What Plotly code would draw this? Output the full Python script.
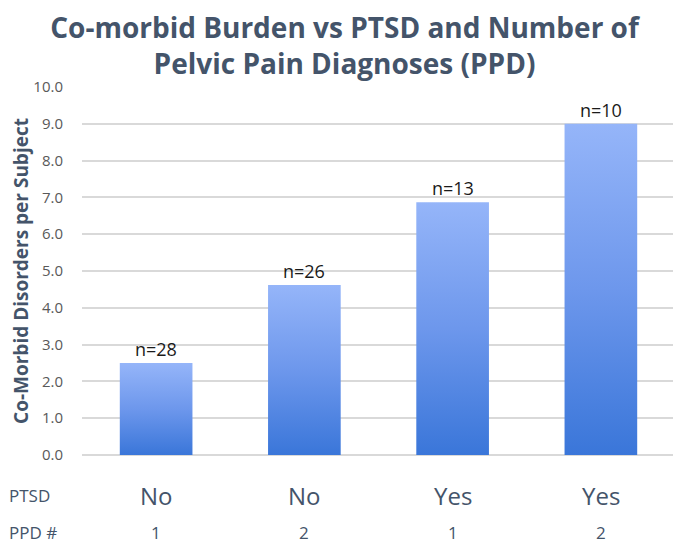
import plotly.graph_objects as go

# Data
ptsd = ["No", "No", "Yes", "Yes"]
ppd = ["1", "2", "1", "2"]
values = [2.5, 4.62, 6.87, 9.0]
n_labels = ["n=28", "n=26", "n=13", "n=10"]
y_ticks = [0, 1, 2, 3, 4, 5, 6, 7, 8, 9, 10]

BAR_HALF = 0.245
FONT = "Open Sans"
GRAD = [[0.0, "#3a76d9"], [0.5, "#6d97ec"], [1.0, "#95b5f9"]]

W, H = 673, 538

fig = go.Figure()
for i, v in enumerate(values):
    xs = [i - BAR_HALF, i + BAR_HALF, i + BAR_HALF, i - BAR_HALF, i - BAR_HALF]
    ys = [0, 0, v, v, 0]
    fig.add_trace(go.Scatter(
        x=xs, y=ys, mode="lines", fill="toself",
        line=dict(width=0, color="rgba(0,0,0,0)"),
        fillgradient=dict(type="vertical", colorscale=GRAD, start=0, stop=v),
        hoverinfo="skip", showlegend=False,
    ))
    fig.add_annotation(x=i, y=v, text=n_labels[i], showarrow=False,
                       yanchor="bottom", yshift=0,
                       font=dict(family=FONT, size=18, color="#1a1a1a"))
    fig.add_annotation(x=i, y=0, xref="x", yref="y", text=ptsd[i], showarrow=False,
                       yanchor="middle", yshift=-40,
                       font=dict(family=FONT, size=24, color="#44546a"))
    fig.add_annotation(x=i, y=0, xref="x", yref="y", text=ppd[i], showarrow=False,
                       yanchor="middle", yshift=-77,
                       font=dict(family=FONT, size=17, color="#44546a"))

fig.add_annotation(x=0, xref="paper", xanchor="left", xshift=-75, y=0, yref="y",
                   yshift=-40, text="PTSD", showarrow=False, yanchor="middle",
                   font=dict(family=FONT, size=17, color="#44546a"))
fig.add_annotation(x=0, xref="paper", xanchor="left", xshift=-75, y=0, yref="y",
                   yshift=-77, text="PPD #", showarrow=False, yanchor="middle",
                   font=dict(family=FONT, size=17, color="#44546a"))

fig.update_layout(
    width=W, height=H,
    margin=dict(l=74, r=6, t=79, b=91),
    paper_bgcolor="white", plot_bgcolor="white",
    title=dict(text="<b>Co-morbid Burden vs PTSD and Number of<br>Pelvic Pain Diagnoses (PPD)</b>",
               x=0.5, xanchor="center", yref="container", y=1 - 30 / H, yanchor="middle",
               font=dict(family=FONT, size=28, color="#44546a")),
    xaxis=dict(range=[-0.5, 3.5], showticklabels=False, showgrid=False,
               zeroline=False, showline=False, fixedrange=True),
    yaxis=dict(range=[0, 10], tickvals=y_ticks,
               ticktext=[f"{t:.1f}" for t in y_ticks],
               showgrid=True, gridcolor="#d9d9d9", gridwidth=1.5,
               zeroline=True, zerolinecolor="#d9d9d9", zerolinewidth=1.5,
               tickfont=dict(family=FONT, size=15, color="#595959"),
               ticks="", ticklabelstandoff=18,
               title=dict(text="<b>Co-Morbid Disorders per Subject</b>", standoff=0,
                          font=dict(family=FONT, size=19, color="#44546a"))),
)

fig.write_html("out.html")
